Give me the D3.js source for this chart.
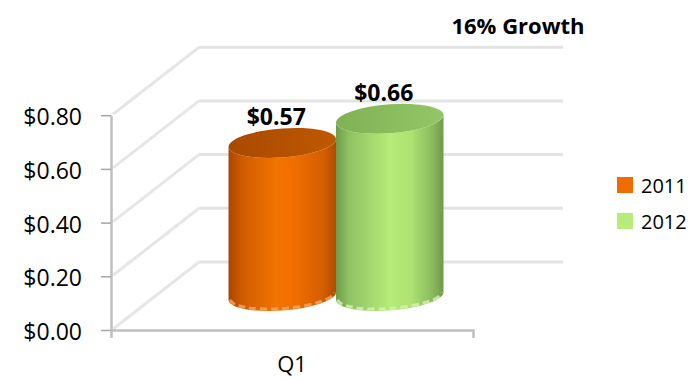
<!DOCTYPE html>
<html>
<head>
<meta charset="utf-8">
<script src="https://cdn.jsdelivr.net/npm/d3@7"></script>
<style>
  body { margin: 0; background: #fff; }
  text { font-family: "Open Sans", sans-serif; fill: #000; }
</style>
</head>
<body>
<script>
var categories = ["Q1"];
var series = ["2011", "2012"];
var values = [0.57, 0.66];
var yTicks = [0, 0.2, 0.4, 0.6, 0.8];
var title = "16% Growth";

var width = 694, height = 380;
var depth = { dx: 88, dy: -68 };   // back wall offset
var barDepth = 0.5;                 // bars sit halfway into the box

var svg = d3.select("body").append("svg")
  .attr("width", width)
  .attr("height", height);

var y = d3.scaleLinear().domain([0, 0.8]).range([330, 115.2]);
var x0 = d3.scaleBand().domain(categories).range([111, 473]);
var x1 = d3.scaleBand().domain(series).range([0, x0.bandwidth()])
  .paddingInner(0).paddingOuter(0.684);

var defs = svg.append("defs");
function hGrad(id, stops) {
  var g = defs.append("linearGradient").attr("id", id)
    .attr("x1", "0%").attr("x2", "100%").attr("y1", "0%").attr("y2", "0%");
  stops.forEach(function(s) {
    g.append("stop").attr("offset", s[0]).attr("stop-color", s[1]);
  });
}
hGrad("body2011", [["0%", "#a94600"], ["12%", "#cf5a00"], ["45%", "#f27400"], ["62%", "#f06d00"], ["88%", "#d45e00"], ["100%", "#b04c00"]]);
hGrad("top2011", [["0%", "#a84a00"], ["100%", "#bf5800"]]);
hGrad("body2012", [["0%", "#6f9c48"], ["12%", "#8fc262"], ["50%", "#b5eb78"], ["70%", "#aee272"], ["90%", "#8ab95d"], ["100%", "#6f9a48"]]);
hGrad("top2012", [["0%", "#80b256"], ["100%", "#93c665"]]);
var rimColor = { "2011": "#f6a868", "2012": "#d6f4b0" };
var legendColor = { "2011": "#f06c00", "2012": "#b6ec7a" };

// side wall diagonals and back wall gridlines
svg.append("g").selectAll("line")
  .data(yTicks).enter().append("line")
  .attr("x1", 113).attr("y1", function(d) { return y(d) - 1; })
  .attr("x2", 111 + depth.dx).attr("y2", function(d) { return y(d) + depth.dy; })
  .attr("stroke", "#e6e6e6").attr("stroke-width", 3);

svg.append("g").selectAll("line")
  .data(yTicks).enter().append("line")
  .attr("x1", 111 + depth.dx).attr("x2", 473 + depth.dx + 2)
  .attr("y1", function(d) { return y(d) + depth.dy; })
  .attr("y2", function(d) { return y(d) + depth.dy; })
  .attr("stroke", "#e3e3e3").attr("stroke-width", 3);

// axes
var yAxis = svg.append("g")
  .attr("transform", "translate(111,0)")
  .call(d3.axisLeft(y).tickValues(yTicks).tickFormat(d3.format("$.2f"))
    .tickSizeInner(10).tickSizeOuter(0).tickPadding(19));
yAxis.select(".domain").attr("stroke", "#bfbfbf").attr("stroke-width", 2.5);
yAxis.selectAll(".tick line").attr("stroke", "#a6a6a6").attr("stroke-width", 1.5);
yAxis.selectAll(".tick text").attr("font-size", 23).attr("dy", "0.42em")
  .attr("font-family", "'Open Sans', sans-serif").attr("fill", "#000");

var xAxis = svg.append("g")
  .attr("transform", "translate(0,330)")
  .call(d3.axisBottom(x0).tickSizeInner(0).tickSizeOuter(8).tickPadding(0));
xAxis.select(".domain").attr("stroke", "#bfbfbf").attr("stroke-width", 2.5);
xAxis.selectAll(".tick text").attr("font-size", 22).attr("y", 42).attr("dy", 0)
  .attr("font-family", "'Open Sans', sans-serif").attr("fill", "#000");

// cylinders
var bars = series.map(function(s, i) {
  var left = x0(categories[0]) + x1(s) + depth.dx * barDepth;
  var rx = x1.bandwidth() / 2;
  return {
    s: s, v: values[i], cx: left + rx, rx: rx, ry: 14.5,
    base: y(0) + depth.dy * barDepth,
    top: y(values[i]) + depth.dy * barDepth
  };
});

var cyl = svg.append("g").selectAll("g")
  .data(bars).enter().append("g")
  .attr("transform", function(d) {
    return "translate(" + d.cx + "," + d.base + ") skewY(-4) translate(" + (-d.cx) + "," + (-d.base) + ")";
  });

cyl.append("path")
  .attr("d", function(d) {
    return "M" + (d.cx - d.rx) + "," + d.top +
      "L" + (d.cx - d.rx) + "," + d.base +
      "A" + d.rx + "," + d.ry + " 0 0 0 " + (d.cx + d.rx) + "," + d.base +
      "L" + (d.cx + d.rx) + "," + d.top +
      "A" + d.rx + "," + d.ry + " 0 0 1 " + (d.cx - d.rx) + "," + d.top + "Z";
  })
  .attr("fill", function(d) { return "url(#body" + d.s + ")"; });

cyl.append("path")
  .attr("d", function(d) {
    return "M" + (d.cx - d.rx + 2) + "," + d.base +
      "A" + (d.rx - 2) + "," + (d.ry - 2) + " 0 0 0 " + (d.cx + d.rx - 2) + "," + d.base;
  })
  .attr("fill", "none")
  .attr("stroke", function(d) { return rimColor[d.s]; })
  .attr("stroke-width", 3).attr("stroke-dasharray", "7,4").attr("opacity", 0.8);

cyl.append("ellipse")
  .attr("cx", function(d) { return d.cx; })
  .attr("cy", function(d) { return d.top; })
  .attr("rx", function(d) { return d.rx; })
  .attr("ry", function(d) { return d.ry; })
  .attr("fill", function(d) { return "url(#top" + d.s + ")"; });

// value labels
svg.append("g").selectAll("text")
  .data(bars).enter().append("text")
  .attr("x", function(d) { return d.cx - 6; })
  .attr("y", function(d) { return d.top - d.ry - 3; })
  .attr("text-anchor", "middle")
  .attr("font-size", 23).attr("font-weight", "bold")
  .text(function(d) { return d3.format("$.2f")(d.v); });

// title
svg.append("text")
  .attr("x", 518).attr("y", 34)
  .attr("text-anchor", "middle")
  .attr("font-size", 22).attr("font-weight", "bold")
  .text(title);

// legend
var legend = svg.append("g").selectAll("g")
  .data(series).enter().append("g")
  .attr("transform", function(d, i) { return "translate(617," + (177 + i * 36) + ")"; });
legend.append("rect")
  .attr("width", 16).attr("height", 16)
  .attr("fill", function(d) { return legendColor[d]; });
legend.append("text")
  .attr("x", 24).attr("y", 16)
  .attr("font-size", 20)
  .text(function(d) { return d; });
</script>
</body>
</html>
